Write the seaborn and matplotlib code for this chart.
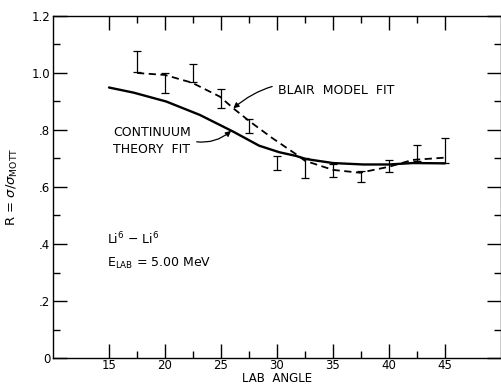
import matplotlib
matplotlib.use("Agg")
import matplotlib.pyplot as plt
import seaborn as sns
import pandas as pd
import numpy as np

# measured points
angles = [17.5, 20, 22.5, 25, 27.5, 30, 32.5, 35, 37.5, 40, 42.5, 45]
ratio = [1.04, 0.965, 1.0, 0.91, 0.815, 0.685, 0.666, 0.658, 0.637, 0.675, 0.72, 0.728]
ratio_err = [0.037, 0.034, 0.033, 0.034, 0.024, 0.024, 0.035, 0.023, 0.02, 0.021, 0.028, 0.043]

# continuum theory fit (solid)
cont_x = [15, 17.2, 20.1, 23.1, 26.1, 28.4, 30.2, 31.7, 32.6, 35, 37.7, 40, 42.1, 45]
cont_y = [0.949, 0.931, 0.900, 0.853, 0.794, 0.745, 0.722, 0.709, 0.698, 0.684, 0.679, 0.679, 0.684, 0.683]

# Blair model fit (dashed)
blair_x = [17.5, 20, 22.4, 24.9, 26.1, 27.6, 29.6, 31.7, 32.5, 35, 37.4, 40, 42.1, 45]
blair_y = [1.0, 0.993, 0.966, 0.917, 0.876, 0.829, 0.771, 0.715, 0.692, 0.660, 0.650, 0.671, 0.695, 0.703]

x_ticks = [15, 20, 25, 30, 35, 40, 45]
y_ticks = [0, 0.2, 0.4, 0.6, 0.8, 1.0, 1.2]
y_tick_labels = ["0", ".2", ".4", ".6", ".8", "1.0", "1.2"]

sns.set_style("ticks")
plt.rcParams['font.family'] = ['DejaVu Sans']
plt.rcParams['text.color'] = 'black'
plt.rcParams['axes.labelcolor'] = 'black'
plt.rcParams['xtick.color'] = 'black'
plt.rcParams['ytick.color'] = 'black'
plt.rcParams['axes.edgecolor'] = 'black'

fig = plt.figure(figsize=(5.02, 3.85), dpi=100)
ax = fig.add_axes([0.1056, 0.0701, 0.8924, 0.8884])

cont_df = pd.DataFrame({"angle": cont_x, "R": cont_y})
blair_df = pd.DataFrame({"angle": blair_x, "R": blair_y})

sns.lineplot(data=cont_df, x="angle", y="R", ax=ax, color="black", lw=1.7,
             sort=False, estimator=None)
sns.lineplot(data=blair_df, x="angle", y="R", ax=ax, color="black", lw=1.3,
             sort=False, estimator=None, dashes=False, linestyle=(0, (4, 2.5)))
ax.errorbar(angles, ratio, yerr=ratio_err, fmt="none", ecolor="black",
            elinewidth=0.9, capsize=3, capthick=0.9)

ax.set_xlim(10, 50)
ax.set_ylim(0, 1.2)
ax.set_xticks(x_ticks)
ax.set_xticklabels([str(t) for t in x_ticks])
ax.set_xticks(np.arange(17.5, 45, 5), minor=True)
ax.set_yticks(y_ticks)
ax.set_yticklabels(y_tick_labels)
ax.set_yticks(np.arange(0.1, 1.2, 0.2), minor=True)
ax.tick_params(which="both", direction="in", top=True, right=True,
               width=1, color="black", labelcolor="black", labelsize=8.5, pad=2)
ax.tick_params(axis="x", which="both", pad=1)
ax.tick_params(which="major", length=10)
ax.tick_params(which="minor", length=5)
for s in ax.spines.values():
    s.set_linewidth(1)
    s.set_color("black")

ax.set_xlabel("LAB  ANGLE", fontsize=8.5, labelpad=0)
ax.set_ylabel(r"R = $\sigma$/$\sigma_{\mathregular{MOTT}}$", fontsize=9.5, labelpad=8)

ax.annotate("BLAIR  MODEL  FIT", xy=(26.1, 0.876), xytext=(30.1, 0.937),
            fontsize=9, va="center", ha="left",
            arrowprops=dict(arrowstyle="-|>", color="black", lw=0.9,
                            connectionstyle="arc3,rad=0.3", shrinkA=2, shrinkB=0,
                            mutation_scale=8))
ax.annotate("CONTINUUM\nTHEORY  FIT", xy=(25.9, 0.797), xytext=(15.35, 0.762),
            fontsize=9, va="center", ha="left", linespacing=1.35,
            arrowprops=dict(arrowstyle="-|>", color="black", lw=0.9,
                            connectionstyle="arc3,rad=0.25", shrinkA=2, shrinkB=0,
                            mutation_scale=8, relpos=(1.0, 0.5)))

ax.text(14.8, 0.40, r"Li$^{6}$ $-$ Li$^{6}$", fontsize=9, va="baseline", ha="left")
ax.text(14.8, 0.318, r"E$_{\mathregular{LAB}}$ = 5.00 MeV", fontsize=9, va="baseline", ha="left")

fig.savefig("out.png", dpi=100)
